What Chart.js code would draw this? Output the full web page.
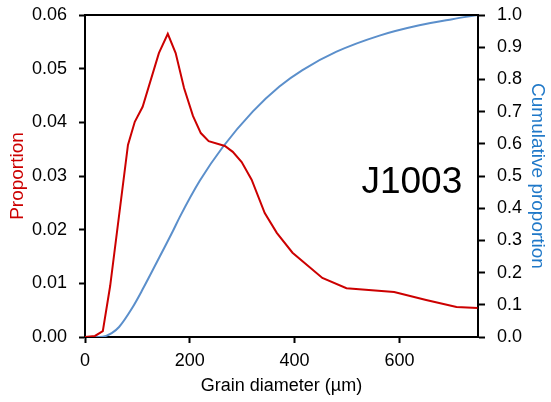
<!DOCTYPE html>
<html>
<head>
<meta charset="utf-8">
<script src="https://cdn.jsdelivr.net/npm/chart.js@4/dist/chart.umd.min.js"></script>
<style>
  html, body { margin: 0; padding: 0; background: #fff; }
  canvas { display: block; }
</style>
</head>
<body>
<canvas id="grain" width="551" height="402"></canvas>
<script>
// grain size distribution, sample J1003
const sampleName = 'J1003';

// per-bin proportion (left axis)
const propX = [0, 19, 34, 48, 82, 95, 110, 141, 158, 173, 189, 206, 221, 236, 267, 282, 299, 318, 343, 366, 396, 453, 499, 590, 651, 709, 749];
const propY = [0, 0.0002, 0.0011, 0.0095, 0.0358, 0.0401, 0.0429, 0.0529, 0.0565, 0.0529, 0.0464, 0.0412, 0.0380, 0.0365, 0.0356, 0.0345, 0.0326, 0.0293, 0.0231, 0.0194, 0.0157, 0.0110, 0.0091, 0.0084, 0.0069, 0.0056, 0.0054];

// cumulative proportion (right axis)
const cumX = [0, 20, 34, 51, 65, 90, 110, 137, 168, 181, 219, 263, 320, 371, 415, 480, 562, 638, 701, 750];
const cumY = [0, 0, 0.001, 0.012, 0.031, 0.090, 0.148, 0.232, 0.330, 0.373, 0.485, 0.590, 0.700, 0.778, 0.829, 0.886, 0.936, 0.968, 0.987, 1.0];

const xTicks = [0, 200, 400, 600];
const propTicks = [0, 0.01, 0.02, 0.03, 0.04, 0.05, 0.06];
const cumTicks = [0, 0.1, 0.2, 0.3, 0.4, 0.5, 0.6, 0.7, 0.8, 0.9, 1.0];

const RED = '#cc0000', BLUE_LINE = '#5b8fcb', BLUE_TEXT = '#1f78c8';
const FONT = '"Liberation Sans", Arial, Helvetica, sans-serif';

const pts = (xs, ys) => xs.map((x, i) => ({x, y: ys[i]}));
const fixTicks = vals => axis => { axis.ticks = vals.map(v => ({value: v})); };

// closes the frame along the top of the plot area, and writes the sample name
const framePlugin = {
  id: 'frame',
  afterDatasetsDraw(chart) {
    const {ctx, chartArea: a, scales} = chart;
    ctx.save();
    ctx.strokeStyle = '#000';
    ctx.lineWidth = 2;
    ctx.beginPath();
    ctx.moveTo(a.left - 1, a.top);
    ctx.lineTo(a.right + 1, a.top);
    ctx.stroke();
    ctx.fillStyle = '#000';
    ctx.font = '37px ' + FONT;
    ctx.textAlign = 'right';
    ctx.textBaseline = 'alphabetic';
    ctx.fillText(sampleName, scales.x.getPixelForValue(720), scales.y1.getPixelForValue(0.447));
    ctx.restore();
  }
};

const axisCommon = {
  border: {display: true, color: '#000', width: 2},
  grid: {drawOnChartArea: false, drawTicks: true, tickLength: 6, tickColor: '#000', tickWidth: 2}
};
// fixed axis boxes so the plot area lands where it should
const fitV = w => s => { s.width = w; s.paddingTop = 0; s.paddingBottom = 0; };
const fitH = h => s => { s.height = h; s.paddingLeft = 0; s.paddingRight = 0; };

new Chart(document.getElementById('grain'), {
  type: 'line',
  data: {
    datasets: [
      {label: 'Proportion', data: pts(propX, propY), yAxisID: 'y',
       borderColor: RED, borderWidth: 2, pointRadius: 0, tension: 0},
      {label: 'Cumulative proportion', data: pts(cumX, cumY), yAxisID: 'y1',
       borderColor: BLUE_LINE, borderWidth: 2, pointRadius: 0, cubicInterpolationMode: 'monotone'}
    ]
  },
  options: {
    responsive: false, animation: false,
    layout: {padding: {top: 15, left: 0, right: 0, bottom: 0}},
    plugins: {legend: {display: false}, tooltip: {enabled: false}},
    scales: {
      x: {type: 'linear', min: 0, max: 750, ...axisCommon,
        afterBuildTicks: fixTicks(xTicks),
        afterFit: fitH(65),
        ticks: {color: '#000', font: {family: FONT, size: 18}, padding: 7},
        title: {display: true, text: 'Grain diameter (µm)', color: '#000',
          font: {family: FONT, size: 18}, padding: {top: 0, bottom: 5}}},
      y: {position: 'left', min: 0, max: 0.06, ...axisCommon,
        afterBuildTicks: fixTicks(propTicks),
        afterFit: fitV(85),
        ticks: {color: '#000', font: {family: FONT, size: 18}, padding: 12,
          callback: v => v.toFixed(2)},
        title: {display: true, text: 'Proportion', color: RED,
          font: {family: FONT, size: 19}, padding: {top: 6, bottom: 0}}},
      y1: {position: 'right', min: 0, max: 1, ...axisCommon,
        grid: {...axisCommon.grid, tickLength: 7},
        afterBuildTicks: fixTicks(cumTicks),
        afterFit: fitV(73),
        ticks: {color: '#000', font: {family: FONT, size: 18}, padding: 12,
          callback: v => v.toFixed(1)},
        title: {display: true, text: 'Cumulative proportion', color: BLUE_TEXT,
          font: {family: FONT, size: 19}, padding: {top: 2, bottom: 0}}}
    }
  },
  plugins: [framePlugin]
});
</script>
</body>
</html>
